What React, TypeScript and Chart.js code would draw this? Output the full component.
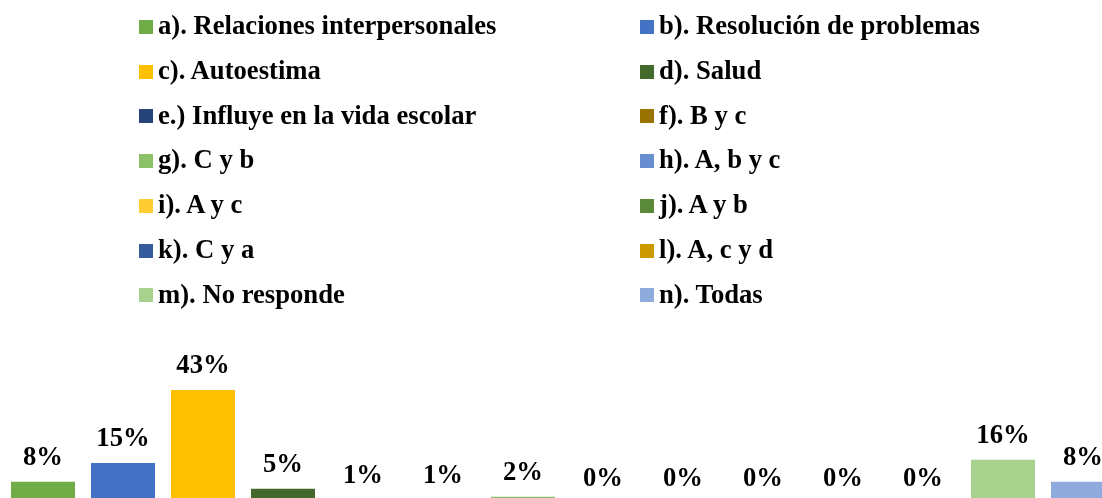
import React, { useEffect, useRef } from "react";
import { Chart, registerables } from "chart.js";

Chart.register(...registerables);

const seriesLabels = [
  "a). Relaciones interpersonales",
  "b). Resolución de problemas",
  "c). Autoestima",
  "d). Salud",
  "e.) Influye en la vida escolar",
  "f). B y c",
  "g). C y b",
  "h). A, b y c",
  "i). A y c",
  "j). A y b",
  "k). C y a",
  "l). A, c y d",
  "m). No responde",
  "n). Todas",
];

const seriesValues = [8.1, 15.2, 43.0, 5.4, 1.0, 1.0, 2.4, 0, 0, 0, 0, 0, 16.4, 8.1];

const seriesColors = [
  "#70AD47",
  "#4472C4",
  "#FFC000",
  "#43682B",
  "#264478",
  "#997300",
  "#8CC168",
  "#698ED0",
  "#FFCD33",
  "#5A8A39",
  "#365B9D",
  "#CC9A00",
  "#A9D18E",
  "#8FAADC",
];

const categories = [""];

const FONT = '"Liberation Serif", "Times New Roman", serif';

const dataLabelPlugin = {
  id: "dataLabels",
  afterDatasetsDraw(chart: any) {
    const ctx = chart.ctx;
    ctx.save();
    ctx.font = `bold 26.67px ${FONT}`;
    ctx.fillStyle = "#000000";
    ctx.textAlign = "center";
    ctx.textBaseline = "alphabetic";
    chart.data.datasets.forEach((ds: any, i: number) => {
      const meta = chart.getDatasetMeta(i);
      meta.data.forEach((el: any, j: number) => {
        const v = ds.data[j];
        const txt = `${Math.round(v)}%`;
        ctx.fillText(txt, el.x, el.y - 17);
      });
    });
    ctx.restore();
  },
};

export default function App() {
  const canvasRef = useRef<HTMLCanvasElement | null>(null);

  useEffect(() => {
    document.body.style.overflow = "hidden";
    const canvas = canvasRef.current;
    if (!canvas) return;
    const chart = new Chart(canvas, {
      type: "bar",
      data: {
        labels: categories,
        datasets: seriesLabels.map((label, i) => ({
          label,
          data: [seriesValues[i]],
          backgroundColor: seriesColors[i],
          borderWidth: 0,
          categoryPercentage: 1,
          barPercentage: 0.8,
        })),
      },
      options: {
        responsive: false,
        animation: false,
        layout: { padding: { left: 3, right: 7, top: 240, bottom: 7 } },
        plugins: {
          legend: { display: false },
          tooltip: { enabled: false },
        },
        scales: {
          x: { display: false, grid: { display: false } },
          y: { display: false, min: 0, max: 100, grid: { display: false } },
        },
      },
      plugins: [dataLabelPlugin],
    });
    return () => chart.destroy();
  }, []);

  return (
    <div
      style={{
        position: "fixed",
        left: 0,
        top: 0,
        width: 1130,
        height: 510,
        background: "#ffffff",
      }}
    >
      <canvas
        ref={canvasRef}
        width={1130}
        height={510}
        style={{ position: "absolute", left: 0, top: 0, width: 1130, height: 510 }}
      />
      {seriesLabels.map((label, i) => {
        const col = i % 2;
        const row = Math.floor(i / 2);
        const markerLeft = col === 0 ? 139 : 640;
        const textLeft = col === 0 ? 158 : 659;
        const baseline = 34.3 + row * 44.7;
        return (
          <React.Fragment key={label}>
            <div
              style={{
                position: "absolute",
                left: markerLeft,
                top: 20 + row * 44.7,
                width: 14,
                height: 14,
                background: seriesColors[i],
              }}
            />
            <div
              style={{
                position: "absolute",
                left: textLeft,
                top: baseline - 24,
                fontFamily: FONT,
                fontWeight: "bold",
                fontSize: "26.67px",
                lineHeight: "30px",
                whiteSpace: "nowrap",
                color: "#000000",
              }}
            >
              {label}
            </div>
          </React.Fragment>
        );
      })}
    </div>
  );
}
